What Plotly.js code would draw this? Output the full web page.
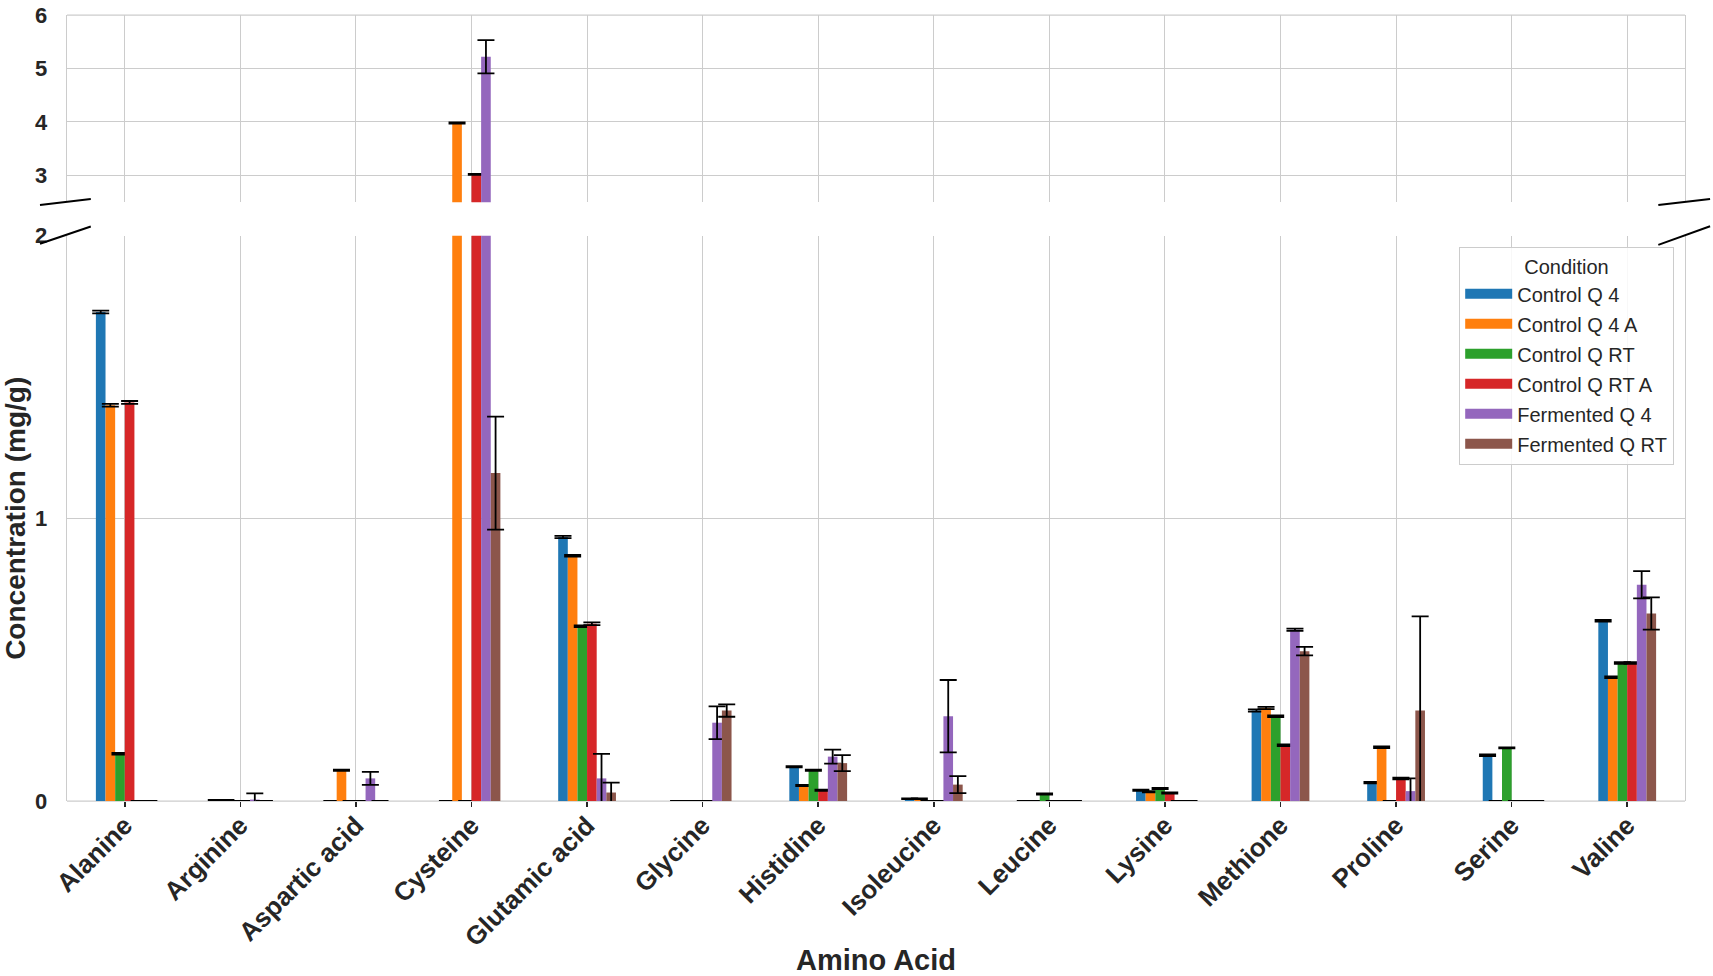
<!DOCTYPE html>
<html>
<head>
<meta charset="utf-8">
<script src="https://cdn.plot.ly/plotly-3.0.1.min.js"></script>
<style>html,body{margin:0;padding:0;background:#fff;}#chart{width:1713px;height:976px;}</style>
</head>
<body>
<div id="chart"></div>
<script>
// ---- data ----
const categories = ['Alanine','Arginine','Aspartic acid','Cysteine','Glutamic acid','Glycine','Histidine','Isoleucine','Leucine','Lysine','Methione','Proline','Serine','Valine'];
const seriesNames = ['Control Q 4','Control Q 4 A','Control Q RT','Control Q RT A','Fermented Q 4','Fermented Q RT'];

const controlQ4      = [1.73, 0.003, 0, 0, 0.934, 0, 0.121, 0.008, 0, 0.038, 0.320, 0.065, 0.162, 0.638];
const controlQ4A     = [1.40, 0.003, 0.109, 3.98, 0.868, 0, 0.055, 0.008, 0, 0.033, 0.329, 0.190, 0, 0.438];
const controlQRT     = [0.167, 0, 0, 0, 0.618, 0, 0.109, 0, 0.025, 0.044, 0.300, 0, 0.188, 0.488];
const controlQRTA    = [1.41, 0, 0, 3.02, 0.627, 0, 0.038, 0, 0, 0.028, 0.197, 0.080, 0, 0.488];
const fermentedQ4    = [0, 0.005, 0.080, 5.22, 0.080, 0.277, 0.157, 0.300, 0, 0, 0.606, 0.035, 0, 0.765];
const fermentedQRT   = [0, 0, 0, 1.16, 0.030, 0.320, 0.134, 0.058, 0, 0, 0.530, 0.320, 0, 0.663];

const errControlQ4    = [0.005, 0.001, 0, 0, 0.004, 0, 0.002, 0.001, 0, 0.002, 0.004, 0.003, 0.003, 0.003];
const errControlQ4A   = [0.005, 0.001, 0.002, 0.01, 0.003, 0, 0.002, 0.001, 0, 0.002, 0.004, 0.003, 0, 0.003];
const errControlQRT   = [0.003, 0, 0, 0, 0.003, 0, 0.002, 0, 0.002, 0.002, 0.003, 0, 0.002, 0.003];
const errControlQRTA  = [0.005, 0, 0, 0.01, 0.005, 0, 0.002, 0, 0, 0.002, 0.003, 0.003, 0, 0.003];
const errFermentedQ4  = [0, 0.022, 0.023, 0.31, 0.087, 0.058, 0.025, 0.128, 0, 0, 0.004, 0.045, 0, 0.048];
const errFermentedQRT = [0, 0, 0, 0.20, 0.035, 0.022, 0.028, 0.030, 0, 0, 0.015, 0.333, 0, 0.057];

const lowerTicks = [0, 1, 2];
const upperTicks = [3, 4, 5, 6];

// ---- styles ----
const colors = ['#1f77b4','#ff7f0e','#2ca02c','#d62728','#9467bd','#8c564b'];
const values = [controlQ4, controlQ4A, controlQRT, controlQRTA, fermentedQ4, fermentedQRT];
const errors = [errControlQ4, errControlQ4A, errControlQRT, errControlQRTA, errFermentedQ4, errFermentedQRT];
const FONT = 'Liberation Sans, Arial, sans-serif';
const TXT = '#262626';
const GRID = '#cccccc';

const lowerDomain = [0, 0.7193];
const upperDomain = [0.7618, 1];

const traces = [];
['y','y2'].forEach(function(ax){
  values.forEach(function(v, i){
    traces.push({
      type: 'bar',
      x: categories,
      y: v,
      yaxis: ax,
      xaxis: 'x',
      name: seriesNames[i],
      showlegend: false,
      marker: {color: colors[i], line: {width: 0}},
      error_y: {type: 'data', array: errors[i], visible: true, color: '#000000', thickness: 1.8, width: 8.5},
      hoverinfo: 'skip'
    });
  });
});
// legend entries (patch-like wide swatches)
seriesNames.forEach(function(n, i){
  traces.push({
    type: 'scatter', mode: 'lines', x: [null], y: [null], xaxis: 'x', yaxis: 'y',
    name: n, legendgroup: 'g' + i, showlegend: true, line: {color: colors[i], width: 12}, hoverinfo: 'skip'
  });
});

// break marks and outer spines, expressed relative to the axes' domains
const brk = {color: '#000000', width: 2};
const spine = {color: GRID, width: 1.25};
const lo = lowerDomain[1], up = upperDomain[0];
const shapes = [
  {type:'line', xref:'paper', yref:'paper', x0:-0.0167, x1:0.0147, y0:up-0.0035, y1:up+0.0041, line:brk},
  {type:'line', xref:'paper', yref:'paper', x0:-0.0167, x1:0.0147, y0:lo-0.0104, y1:lo+0.0116, line:brk},
  {type:'line', xref:'paper', yref:'paper', x0:0.9835, x1:1.0155, y0:up-0.0035, y1:up+0.0041, line:brk},
  {type:'line', xref:'paper', yref:'paper', x0:0.9835, x1:1.0155, y0:lo-0.0117, y1:lo+0.0120, line:brk},
  {type:'line', xref:'paper', yref:'paper', x0:0, x1:1, y0:1, y1:1, line:spine, layer:'below'},
  {type:'line', xref:'paper', yref:'paper', x0:0, x1:1, y0:0, y1:0, line:spine, layer:'below'}
];

const layout = {
  width: 1713, height: 976,
  margin: {l: 67, r: 28, t: 15, b: 175},
  paper_bgcolor: '#ffffff', plot_bgcolor: '#ffffff',
  font: {family: FONT, color: TXT},
  barmode: 'group', bargap: 0.5, bargroupgap: 0,
  xaxis: {
    type: 'category', range: [-0.5, 13.5], anchor: 'y',
    showgrid: true, gridcolor: GRID, gridwidth: 1,
    showline: false,
    ticks: 'outside', ticklen: 5, tickwidth: 1.5, tickcolor: TXT,
    tickangle: -45, ticklabelstandoff: -7,
    tickfont: {family: FONT, size: 26, color: TXT, weight: 'bold'},
    title: {text: 'Amino Acid', font: {family: FONT, size: 29, color: TXT, weight: 'bold'}, standoff: 22},
    zeroline: false, fixedrange: true
  },
  yaxis: {
    domain: lowerDomain, range: [0, 2], anchor: 'x',
    tickvals: lowerTicks, ticktext: lowerTicks.map(String),
    showgrid: true, gridcolor: GRID, gridwidth: 1,
    showline: true, mirror: true, linecolor: GRID, linewidth: 1.25,
    ticks: '', ticklabelstandoff: 14,
    tickfont: {family: FONT, size: 22, color: TXT, weight: 'bold'},
    title: {text: 'Concentration (mg/g)', font: {family: FONT, size: 28, color: TXT, weight: 'bold'}, standoff: 12},
    zeroline: false, fixedrange: true
  },
  yaxis2: {
    domain: upperDomain, range: [2.5, 6], anchor: 'x',
    tickvals: upperTicks, ticktext: upperTicks.map(String),
    ticklabeloverflow: 'allow',
    showgrid: true, gridcolor: GRID, gridwidth: 1,
    showline: true, mirror: true, linecolor: GRID, linewidth: 1.25,
    ticks: '', ticklabelstandoff: 14,
    tickfont: {family: FONT, size: 22, color: TXT, weight: 'bold'},
    zeroline: false, fixedrange: true
  },
  legend: {
    x: 0.9932, xanchor: 'right', y: 0.7047, yanchor: 'top',
    bgcolor: 'rgba(255,255,255,0.85)', bordercolor: GRID, borderwidth: 1.2,
    font: {family: FONT, size: 20, color: TXT},
    title: {text: 'Condition', side: 'top center', font: {family: FONT, size: 20, color: TXT}},
    itemwidth: 47, tracegroupgap: 1
  },
  shapes: shapes
};

Plotly.newPlot('chart', traces, layout, {staticPlot: true, displayModeBar: false});
</script>
</body>
</html>
